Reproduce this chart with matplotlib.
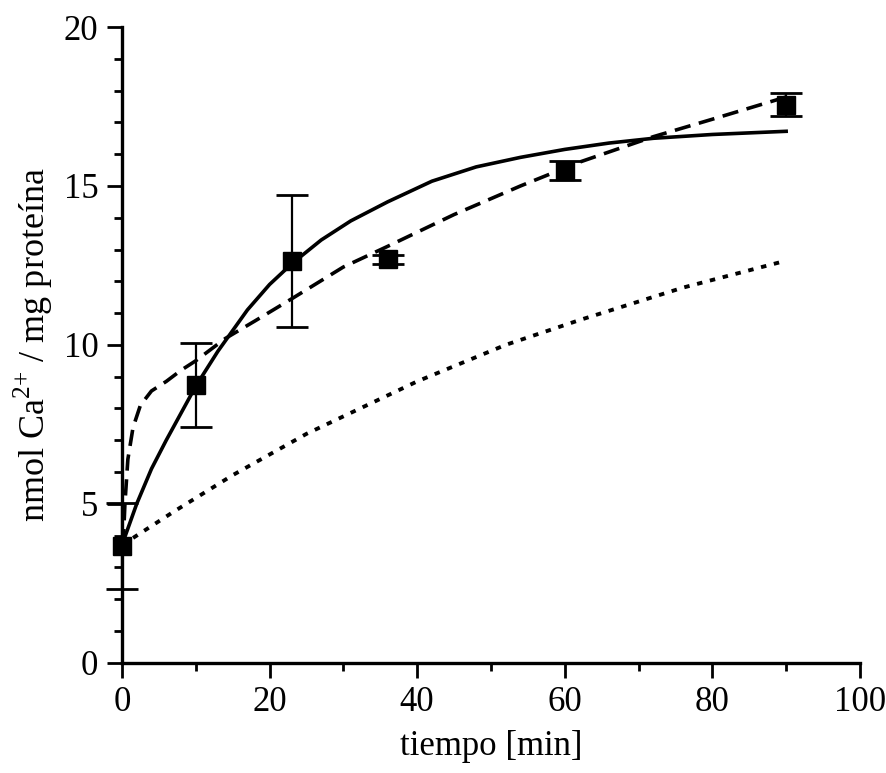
import matplotlib.pyplot as plt
from matplotlib.ticker import MultipleLocator

plt.rcParams['font.family'] = ['Liberation Serif', 'DejaVu Serif']
plt.rcParams['mathtext.fontset'] = 'custom'
plt.rcParams['mathtext.rm'] = 'Liberation Serif'

# measured points
t_pts = [0, 10, 23, 36, 60, 90]
ca_pts = [3.68, 8.75, 12.64, 12.7, 15.48, 17.56]
ca_err = [1.35, 1.32, 2.07, 0.14, 0.29, 0.35]

# solid curve
t_solid = [0, 2, 4, 6, 8, 10, 13, 17, 20, 23, 27, 31, 36, 42, 48, 54, 60, 66, 72, 80, 90]
ca_solid = [3.7, 5.0, 6.1, 7.0, 7.85, 8.7, 9.8, 11.1, 11.9, 12.55, 13.3, 13.9, 14.5,
            15.15, 15.6, 15.9, 16.15, 16.35, 16.5, 16.62, 16.72]

# dashed curve
t_dash = [0, 0.2, 0.4, 0.8, 1.5, 2.5, 4, 6, 8, 10, 14, 18, 23, 30, 36, 45, 54, 62, 72, 80, 90]
ca_dash = [3.7, 3.9, 5.0, 6.4, 7.4, 8.1, 8.55, 8.85, 9.2, 9.5, 10.2, 10.75, 11.45, 12.45,
           13.1, 14.1, 15.0, 15.75, 16.55, 17.1, 17.8]

# dotted curve
t_dot = [0, 7, 15, 25, 40, 52, 62, 76, 90]
ca_dot = [3.7, 4.75, 5.9, 7.2, 8.85, 10.0, 10.78, 11.8, 12.65]

fig = plt.figure(figsize=(8.87, 7.73), dpi=100)
ax = fig.add_axes([0.1375, 0.1427, 0.832, 0.8223])

ax.plot(t_solid, ca_solid, color='black', lw=2.6)
ax.plot(t_dash, ca_dash, color='black', lw=2.6, linestyle=(0, (4.5, 2.4)))
ax.plot(t_dot, ca_dot, color='black', lw=2.8, linestyle=(0, (1.4, 2.0)))

ax.errorbar(t_pts, ca_pts, yerr=ca_err, fmt='s', color='black', markersize=13,
            ecolor='black', elinewidth=1.6, capsize=11.5, capthick=2.0, clip_on=False,
            zorder=5)

ax.set_xlim(0, 100)
ax.set_ylim(0, 20)
ax.xaxis.set_major_locator(MultipleLocator(20))
ax.xaxis.set_minor_locator(MultipleLocator(10))
ax.yaxis.set_major_locator(MultipleLocator(5))
ax.yaxis.set_minor_locator(MultipleLocator(1))

ax.spines['top'].set_visible(False)
ax.spines['right'].set_visible(False)
ax.spines['left'].set_linewidth(2.4)
ax.spines['bottom'].set_linewidth(2.4)
ax.tick_params(which='major', direction='out', length=11, width=2.0, labelsize=25, pad=6)
ax.tick_params(which='minor', direction='out', length=6, width=2.0)

ax.set_xlabel('tiempo [min]', fontsize=25, labelpad=8)
ax.set_ylabel('nmol Ca$^{2{+}}$ / mg proteína', fontsize=26, labelpad=6)

fig.savefig('out.png', dpi=100)
